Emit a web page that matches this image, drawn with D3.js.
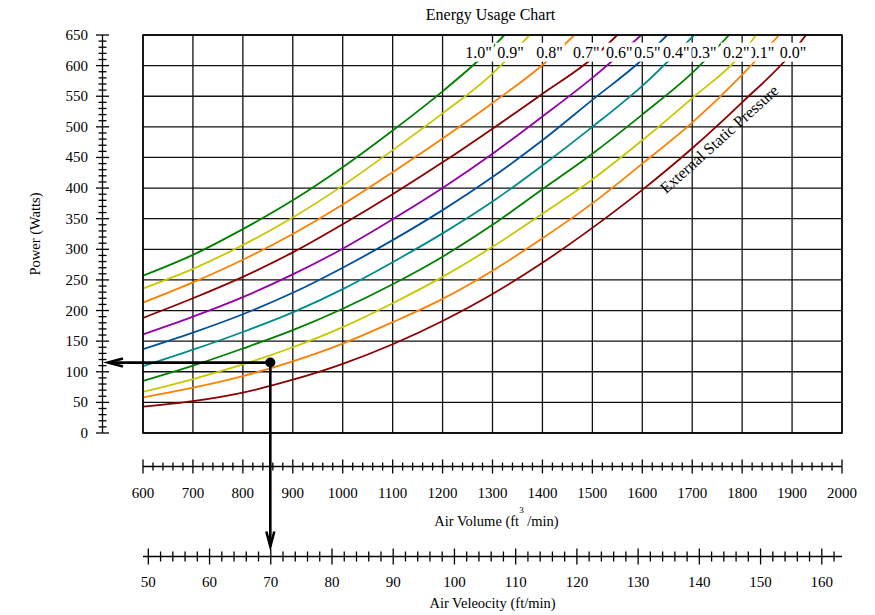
<!DOCTYPE html>
<html>
<head>
<meta charset="utf-8">
<script src="https://cdn.jsdelivr.net/npm/d3@7"></script>
<style>
  body { margin: 0; background: #fff; }
  svg text { font-family: "Liberation Serif", "Times New Roman", serif; fill: #000; }
</style>
</head>
<body>
<div id="chart"></div>
<script>
// pressure curves (inches of water)
const pressures = ["0.0", "0.1", "0.2", "0.3", "0.4", "0.5", "0.6", "0.7", "0.8", "0.9", "1.0"];
const curveColors = ["#8b0000", "#ff8000", "#c8c800", "#008000", "#008b8b", "#00509e", "#9400a8",
                     "#8b0000", "#ff8000", "#c8c800", "#008000"];

// power (W) at 600, 700, 800 ... cfm, each curve until it leaves the top of the chart
const volumeSteps = [600, 700, 800, 900, 1000, 1100, 1200, 1300, 1400, 1500, 1600, 1700, 1800, 1900];
const powerValues = [
  [43, 52, 66, 87, 113, 145, 183, 227, 278, 335, 397, 465, 540, 621],
  [58, 74, 93, 117, 146, 181, 219, 265, 318, 375, 440, 507, 585],
  [67, 88, 112, 140, 173, 212, 255, 304, 358, 414, 478, 547, 620],
  [85, 110, 138, 168, 203, 243, 288, 340, 398, 456, 520, 588],
  [109, 136, 165, 197, 235, 279, 326, 378, 437, 500, 567],
  [137, 164, 194, 229, 270, 315, 364, 418, 478, 544, 610],
  [161, 190, 222, 259, 301, 349, 400, 456, 517, 580],
  [188, 220, 255, 295, 341, 390, 442, 497, 554, 612],
  [213, 246, 283, 325, 373, 426, 481, 539, 601],
  [236, 268, 307, 352, 404, 462, 522, 587],
  [257, 291, 333, 380, 434, 494, 558, 630]
];
// air volume where each curve reaches 650 W
const endVolume = [1928, 1874, 1828, 1774, 1704, 1650, 1598, 1550, 1464, 1374, 1324];
// air volume under the centre of each pressure label
const labelVolume = [1902, 1838, 1788, 1722, 1668, 1610, 1554, 1488, 1414, 1336, 1272];
const labelPower = 622;

// axis ticks
const volumeTicks = d3.range(600, 2001, 100);
const powerTicks = d3.range(0, 651, 50);
const velocityTicks = d3.range(50, 161, 10);
const velocityDomain = [49.13, 163.3];

// example operating point
const pointVolume = 855;
const pointPower = 115;

const width = 875, height = 615;
const plot = {left: 143, right: 842, top: 35, bottom: 433};
const powerAxisX = 102.5;
const volumeAxisY = 466.5;
const velocityAxisY = 556.5;

const svg = d3.select("#chart").append("svg")
    .attr("width", width)
    .attr("height", height);

const x = d3.scaleLinear().domain([600, 2000]).range([plot.left, plot.right]);
const y = d3.scaleLinear().domain([0, 650]).range([plot.bottom, plot.top]);
const v = d3.scaleLinear().domain(velocityDomain).range([plot.left, plot.right]);

// title
svg.append("text")
    .attr("x", (plot.left + plot.right) / 2 - 2)
    .attr("y", 14)
    .attr("text-anchor", "middle")
    .attr("dominant-baseline", "central")
    .style("font-size", "16px")
    .text("Energy Usage Chart");

// grid
const grid = svg.append("g").attr("stroke", "#111").attr("stroke-width", 1.3);
grid.selectAll(".vg").data(volumeTicks).join("line")
    .attr("x1", d => x(d)).attr("x2", d => x(d))
    .attr("y1", plot.top).attr("y2", plot.bottom);
grid.selectAll(".hg").data(powerTicks).join("line")
    .attr("x1", plot.left).attr("x2", plot.right)
    .attr("y1", d => y(d)).attr("y2", d => y(d));

// curves
svg.append("clipPath").attr("id", "clip")
    .append("rect")
    .attr("x", plot.left).attr("y", plot.top)
    .attr("width", plot.right - plot.left).attr("height", plot.bottom - plot.top);

const curves = pressures.map((p, i) => {
    const pts = powerValues[i].map((w, j) => [volumeSteps[j], w]);
    pts.push([endVolume[i], 650]);
    return {p, color: curveColors[i], pts, labelAt: labelVolume[i]};
});

const line = d3.line()
    .x(d => x(d[0]))
    .y(d => y(d[1]))
    .curve(d3.curveMonotoneX);

svg.append("g").attr("clip-path", "url(#clip)")
    .selectAll("path").data(curves).join("path")
    .attr("fill", "none")
    .attr("stroke", d => d.color)
    .attr("stroke-width", 1.8)
    .attr("d", d => line(d.pts));

// pressure labels near the top of each curve, each on a white patch
curves.forEach(c => {
    const g = svg.append("g");
    const t = g.append("text")
        .attr("x", x(c.labelAt))
        .attr("y", y(labelPower))
        .attr("text-anchor", "middle")
        .attr("dominant-baseline", "central")
        .style("font-size", "16px")
        .text(c.p + "\"");
    const b = t.node().getBBox();
    g.insert("rect", "text")
        .attr("x", b.x - 2).attr("y", b.y - 1)
        .attr("width", b.width + 4).attr("height", b.height + 2)
        .attr("fill", "#fff");
});

svg.append("text")
    .attr("transform", "translate(" + x(1754) + "," + y(480) + ") rotate(-42)")
    .attr("text-anchor", "middle")
    .attr("dominant-baseline", "central")
    .style("font-size", "16px")
    .text("External Static Pressure");

// power axis (left)
const pAxis = svg.append("g").attr("stroke", "#000").attr("stroke-width", 1.3);
pAxis.append("line")
    .attr("x1", powerAxisX).attr("x2", powerAxisX)
    .attr("y1", y(650)).attr("y2", y(0));
pAxis.selectAll(".t").data(d3.range(0, 651, 10)).join("line")
    .attr("x1", d => powerAxisX - (d % 50 === 0 ? 6.5 : 4))
    .attr("x2", d => powerAxisX + (d % 50 === 0 ? 6.5 : 4))
    .attr("y1", d => y(d)).attr("y2", d => y(d));
svg.append("g").selectAll("text").data(powerTicks).join("text")
    .attr("x", 88)
    .attr("y", d => y(d))
    .attr("text-anchor", "end")
    .attr("dominant-baseline", "central")
    .style("font-size", "15px")
    .text(d => d);
svg.append("text")
    .attr("transform", "translate(35," + (plot.top + plot.bottom) / 2 + ") rotate(-90)")
    .attr("text-anchor", "middle")
    .attr("dominant-baseline", "central")
    .style("font-size", "14.5px")
    .text("Power (Watts)");

// air volume axis
const volAxis = svg.append("g").attr("stroke", "#000").attr("stroke-width", 1.3);
volAxis.append("line")
    .attr("x1", x(600)).attr("x2", x(2000))
    .attr("y1", volumeAxisY).attr("y2", volumeAxisY);
volAxis.selectAll(".t").data(d3.range(600, 2001, 20)).join("line")
    .attr("x1", d => x(d)).attr("x2", d => x(d))
    .attr("y1", d => volumeAxisY - (d % 100 === 0 ? 7 : 4))
    .attr("y2", d => volumeAxisY + (d % 100 === 0 ? 7 : 4));
svg.append("g").selectAll("text").data(volumeTicks).join("text")
    .attr("x", d => x(d))
    .attr("y", 493)
    .attr("text-anchor", "middle")
    .attr("dominant-baseline", "central")
    .style("font-size", "15px")
    .text(d => d);
const volTitle = svg.append("text")
    .attr("x", (plot.left + plot.right) / 2 + 4)
    .attr("y", 526)
    .attr("text-anchor", "middle")
    .style("font-size", "14.5px");
volTitle.append("tspan").text("Air Volume (ft");
volTitle.append("tspan").attr("dy", -13).style("font-size", "9px").text("3");
volTitle.append("tspan").attr("dy", 13).text(" /min)");

// air velocity axis
const velAxis = svg.append("g").attr("stroke", "#000").attr("stroke-width", 1.3);
velAxis.append("line")
    .attr("x1", plot.left).attr("x2", plot.right)
    .attr("y1", velocityAxisY).attr("y2", velocityAxisY);
velAxis.selectAll(".t").data(d3.range(50, 163, 2)).join("line")
    .attr("x1", d => v(d)).attr("x2", d => v(d))
    .attr("y1", d => velocityAxisY - (d % 10 === 0 ? 8 : 5))
    .attr("y2", d => velocityAxisY + (d % 10 === 0 ? 8 : 5));
svg.append("g").selectAll("text").data(velocityTicks).join("text")
    .attr("x", d => v(d))
    .attr("y", 582)
    .attr("text-anchor", "middle")
    .attr("dominant-baseline", "central")
    .style("font-size", "15px")
    .text(d => d);
svg.append("text")
    .attr("x", (plot.left + plot.right) / 2)
    .attr("y", 603)
    .attr("text-anchor", "middle")
    .attr("dominant-baseline", "central")
    .style("font-size", "14.5px")
    .text("Air Veleocity (ft/min)");

// frame
svg.append("rect")
    .attr("x", plot.left).attr("y", plot.top)
    .attr("width", plot.right - plot.left).attr("height", plot.bottom - plot.top)
    .attr("fill", "none").attr("stroke", "#000").attr("stroke-width", 1.5);

// operating point arrows
const px = x(pointVolume), py = y(pointPower);
const arrows = svg.append("g")
    .attr("fill", "none").attr("stroke", "#000").attr("stroke-width", 2.6);
const hx = powerAxisX + 5.5;
arrows.append("path").attr("d", `M${px},${py}H${hx}`);
arrows.append("path").attr("d", `M${hx + 15},${py - 4}L${hx},${py}L${hx + 15},${py + 4}`);
const vy = velocityAxisY - 10;
arrows.append("path").attr("d", `M${px},${py}V${vy}`);
arrows.append("path").attr("d", `M${px - 4},${vy - 15}L${px},${vy}L${px + 4},${vy - 15}`);
svg.append("circle").attr("cx", px).attr("cy", py).attr("r", 5).attr("fill", "#000");
</script>
</body>
</html>
